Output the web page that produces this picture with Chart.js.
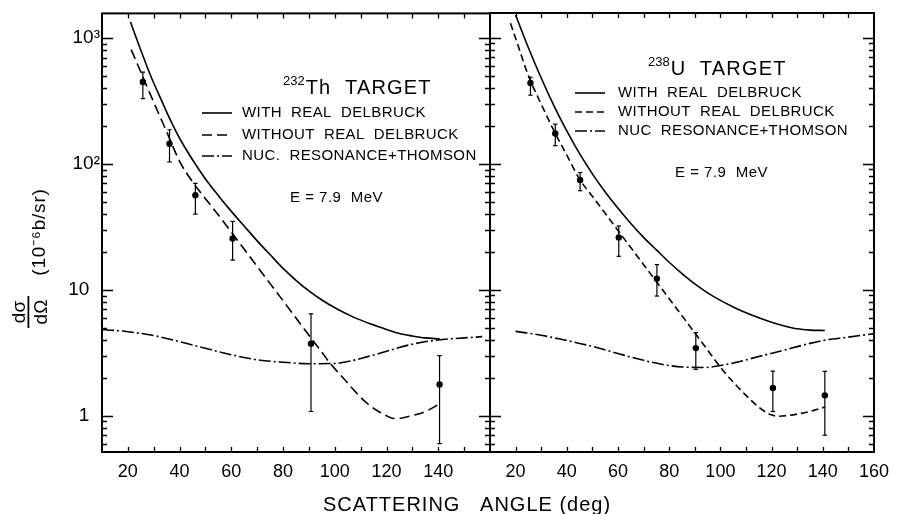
<!DOCTYPE html>
<html><head><meta charset="utf-8">
<script src="https://cdn.jsdelivr.net/npm/chart.js@4.4.1/dist/chart.umd.min.js"></script>
<style>
html,body{margin:0;padding:0;background:#fff;}
#wrap{position:relative;width:898px;height:514px;overflow:hidden;}
#wrap canvas{position:absolute;left:0;top:0;}
</style></head><body>
<div id="wrap"><canvas id="c1" width="898" height="514"></canvas><canvas id="c2" width="898" height="514"></canvas></div>
<script>
// ---------- axes ----------
const xRange = [10, 160];
const yRange = [0.515, 1570];
const yMajorTicks = [1, 10, 100, 1000];
const yTickLabels = ['1', '10', '10²', '10³'];
const xLabelsLeft = [20, 40, 60, 80, 100, 120, 140];
const xLabelsRight = [20, 40, 60, 80, 100, 120, 140, 160];

// ---------- 232Th panel ----------
const thAngles   = [25.8, 36.1, 46.1, 60.5, 90.8, 140.5];
const thValues   = [448, 145, 56.5, 25.6, 3.73, 1.77];
const thErrLow   = [330, 104, 40, 17.2, 1.08, 0.6];
const thErrHigh  = [537, 187, 70, 35, 6.45, 3.0];

const thWithAngles = [21, 25, 29, 33, 36.5, 40, 45, 50, 55, 60, 65, 70, 75, 80, 85, 90, 95, 100, 107, 114, 120, 125, 130, 135, 140.5];
const thWithValues = [1340, 800, 490, 320, 222, 160, 108, 76, 56, 42, 32, 24.5, 19, 14.8, 11.9, 9.8, 8.3, 7.2, 6.1, 5.35, 4.85, 4.5, 4.3, 4.15, 4.08];

const thWithoutAngles = [21.3, 25, 30, 35, 40, 45, 50, 55, 60, 65, 70, 75, 80, 85, 90, 95, 98.3, 103, 108.6, 112, 116.3, 120, 122.7, 126, 130.5, 135, 140.5];
const thWithoutValues = [809, 537, 309, 180, 105, 72, 53, 39.3, 28.7, 21, 15.3, 11.2, 8.2, 5.97, 4.36, 3.19, 2.59, 2.02, 1.5, 1.28, 1.10, 1.0, 0.95, 0.96, 1.01, 1.08, 1.24];

const thNucAngles = [10, 20, 30, 40, 50, 60, 70, 80, 90, 100, 106, 112, 120, 130, 140, 150, 157];
const thNucValues = [4.84, 4.65, 4.33, 3.88, 3.43, 3.05, 2.78, 2.66, 2.59, 2.6, 2.72, 2.92, 3.25, 3.7, 4.0, 4.15, 4.25];

// ---------- 238U panel ----------
const uAngles  = [25.8, 35.5, 45.2, 60.3, 75.2, 90.4, 120.5, 140.8];
const uValues  = [437, 174, 74.3, 26, 12.2, 3.44, 1.66, 1.45];
const uErrLow  = [350, 139, 61, 18.4, 8.9, 2.33, 1.08, 0.70];
const uErrHigh = [485, 206, 85, 32, 15.8, 4.56, 2.26, 2.25];

const uWithAngles = [20, 25, 30, 35, 40, 45, 50, 55, 60, 65, 70, 75, 80, 85, 90, 95, 100, 105, 110, 115, 120, 125, 130, 135, 140.8];
const uWithValues = [1515, 832, 479, 288, 182, 120, 83, 59.6, 44.2, 33.5, 26.0, 20.7, 16.5, 13.4, 11.1, 9.44, 8.22, 7.29, 6.55, 5.98, 5.51, 5.15, 4.89, 4.78, 4.74];

const uWithoutAngles = [18, 20, 25, 30, 35, 40, 45, 50, 55, 60, 65, 70, 75, 80, 85, 90, 95, 100, 105, 110, 115, 119.5, 123, 126, 130, 135, 140.8];
const uWithoutValues = [1300, 990, 499, 297, 182, 117, 75.3, 55.1, 40.4, 29.5, 21.6, 15.8, 11.6, 8.47, 6.21, 4.54, 3.32, 2.43, 1.85, 1.45, 1.17, 1.02, 0.99, 1.0, 1.03, 1.08, 1.17];

const uNucAngles = [20, 30, 36.8, 50, 62.6, 70, 79.4, 86, 93.6, 100, 106.5, 115, 124.6, 132, 140.2, 150, 160];
const uNucValues = [4.67, 4.35, 4.08, 3.55, 3.01, 2.75, 2.51, 2.43, 2.41, 2.5, 2.66, 2.95, 3.3, 3.62, 3.96, 4.2, 4.48];

// ---------- texts ----------
const legendTh = ['WITH  REAL  DELBRUCK', 'WITHOUT  REAL  DELBRUCK', 'NUC.  RESONANCE+THOMSON'];
const legendU  = ['WITH  REAL  DELBRUCK', 'WITHOUT  REAL  DELBRUCK', 'NUC  RESONANCE+THOMSON'];
const titleTh = ['232', 'Th  TARGET'];
const titleU  = ['238', 'U  TARGET'];
const energyText = 'E = 7.9  MeV';
const xTitle = 'SCATTERING   ANGLE (deg)';
const yTitleNum = 'dσ', yTitleDen = 'dΩ', yTitleUnit = '(10⁻⁶b/sr)';

const FONT = '"Liberation Sans", Arial, sans-serif';

function pts(xs, ys) { return xs.map((x, i) => ({x, y: ys[i]})); }
function curve(label, xs, ys, dash) {
  return { label, data: pts(xs, ys), borderColor: '#000', borderWidth: 1.6, borderDash: dash,
    pointRadius: 0, fill: false, cubicInterpolationMode: 'monotone', showLine: true, isCurve: true };
}
function errorBars(xs, lo, hi) {
  const data = [];
  xs.forEach((x, i) => { data.push({x, y: lo[i]}, {x, y: hi[i]}, {x, y: null}); });
  return { label: 'err', data, borderColor: '#000', borderWidth: 1.2, pointStyle: 'line', pointRadius: 2.2,
    pointBorderWidth: 1.2, pointBorderColor: '#000', spanGaps: false, showLine: true, tension: 0 };
}
function points(xs, ys) {
  return { label: 'data', data: pts(xs, ys), showLine: false, pointRadius: 3.2, pointStyle: 'circle',
    pointBackgroundColor: '#000', pointBorderColor: '#000', borderWidth: 0 };
}

function txt(ctx, s, x, y, size, o = {}) {
  ctx.font = `${o.weight || 'normal'} ${size}px ${FONT}`;
  ctx.letterSpacing = (o.ls || 0) + 'px';
  ctx.textAlign = o.align || 'left';
  ctx.textBaseline = o.baseline || 'alphabetic';
  ctx.fillStyle = '#000';
  ctx.fillText(s, x, y);
  const w = ctx.measureText(s).width;
  ctx.letterSpacing = '0px';
  return w;
}

const framePlugin = {
  id: 'frame',
  afterDraw(chart) {
    const {ctx, chartArea: a, scales} = chart;
    const x = scales.x, y = scales.y;
    ctx.save();
    ctx.strokeStyle = '#000';
    ctx.lineWidth = 1.3;
    ctx.beginPath();
    for (let v = x.min + 10; v < x.max; v += 10) {
      const px = Math.round(x.getPixelForValue(v)) + 0.5;
      ctx.moveTo(px, a.bottom); ctx.lineTo(px, a.bottom - 5);
      ctx.moveTo(px, a.top); ctx.lineTo(px, a.top + 5);
    }
    for (let d = -1; d <= 3; d++) {
      for (let m = 1; m <= 9; m++) {
        const v = m * Math.pow(10, d);
        if (v <= y.min || v >= y.max) continue;
        const py = Math.round(y.getPixelForValue(v)) + 0.5;
        const len = m === 1 ? 11 : 5;
        ctx.moveTo(a.left, py); ctx.lineTo(a.left + len, py);
        ctx.moveTo(a.right, py); ctx.lineTo(a.right - len, py);
      }
    }
    ctx.stroke();
    ctx.lineWidth = 2;
    ctx.strokeRect(a.left, a.top, a.right - a.left, a.bottom - a.top);
    ctx.restore();
  }
};

const annotPlugin = {
  id: 'annot',
  afterDraw(chart, args, o) {
    const ctx = chart.ctx;
    ctx.save();
    const w = txt(ctx, o.title[0], o.titleX, o.titleY - 9, 13);
    txt(ctx, o.title[1], o.titleX + w + 1, o.titleY, 20, {ls: 1.2});
    const curves = chart.data.datasets.filter(d => d.isCurve);
    curves.forEach((d, i) => {
      const yy = o.rowY[i];
      ctx.save();
      ctx.strokeStyle = '#000'; ctx.lineWidth = d.borderWidth;
      ctx.setLineDash(d.borderDash || []);
      ctx.beginPath(); ctx.moveTo(o.sampleX[0], yy); ctx.lineTo(o.sampleX[1], yy); ctx.stroke();
      ctx.restore();
      txt(ctx, o.labels[i], o.textX, yy, 15, {baseline: 'middle', ls: 0.4});
    });
    txt(ctx, energyText, o.eX, o.eY, 15, {baseline: 'middle', ls: 0.5});
    if (o.axisTitles) {
      txt(ctx, xTitle, 323, 511, 20, {ls: 1.0});
      ctx.save();
      ctx.rotate(-Math.PI / 2);
      txt(ctx, yTitleNum, -312, 25, 19, {align: 'center'});
      txt(ctx, yTitleDen, -312, 47, 19, {align: 'center'});
      ctx.fillRect(-328, 27.5, 32, 1.8);
      txt(ctx, yTitleUnit, -232, 45, 19, {align: 'center', ls: 0.8});
      ctx.restore();
    }
    ctx.restore();
  }
};

function makeChart(id, cfg) {
  const ctx = document.getElementById(id);
  return new Chart(ctx, {
    type: 'line',
    data: { datasets: [
      curve('with', cfg.withA, cfg.withV, []),
      curve('without', cfg.withoutA, cfg.withoutV, cfg.dash),
      curve('nuc', cfg.nucA, cfg.nucV, [12, 3, 2, 3]),
      errorBars(cfg.expA, cfg.lo, cfg.hi),
      points(cfg.expA, cfg.vals)
    ]},
    plugins: [framePlugin, annotPlugin],
    options: {
      responsive: false, animation: false, devicePixelRatio: 1,
      layout: { padding: { left: cfg.padLeft, right: cfg.padRight, top: 13, bottom: 0 }, autoPadding: false },
      plugins: { legend: { display: false }, tooltip: { enabled: false }, annot: cfg.annot },
      scales: {
        x: {
          type: 'linear', min: xRange[0], max: xRange[1],
          afterFit(s) { s.height = 62; },
          afterBuildTicks(s) { const t = []; for (let v = xRange[0]; v <= xRange[1]; v += 10) t.push({value: v}); s.ticks = t; },
          grid: { display: false, drawTicks: false }, border: { display: false },
          ticks: { autoSkip: false, maxRotation: 0, padding: 9, color: '#000', font: { family: FONT, size: 18 },
            callback: (v) => cfg.xLabels.includes(v) ? String(v) : '' }
        },
        y: {
          type: 'logarithmic', min: yRange[0], max: yRange[1], display: cfg.showY,
          afterFit(s) { s.width = cfg.showY ? 102 : 0; },
          afterBuildTicks(s) { s.ticks = yMajorTicks.map(v => ({value: v})); },
          grid: { display: false, drawTicks: false }, border: { display: false },
          ticks: { padding: 2, color: '#000', font: { family: FONT, size: 19 },
            callback: (v) => { const l = yTickLabels[yMajorTicks.indexOf(v)]; return l.length < 3 ? l + '\u2007' : l; } }
        }
      }
    }
  });
}

makeChart('c1', {
  withA: thWithAngles, withV: thWithValues, withoutA: thWithoutAngles, withoutV: thWithoutValues,
  nucA: thNucAngles, nucV: thNucValues, expA: thAngles, vals: thValues, lo: thErrLow, hi: thErrHigh,
  dash: [10, 5], padLeft: 0, padRight: 408, showY: true, xLabels: xLabelsLeft,
  annot: { title: titleTh, titleX: 283, titleY: 94, rowY: [113, 135, 156], sampleX: [202, 232], textX: 242,
    labels: legendTh, eX: 290, eY: 198, axisTitles: true }
});
makeChart('c2', {
  withA: uWithAngles, withV: uWithValues, withoutA: uWithoutAngles, withoutV: uWithoutValues,
  nucA: uNucAngles, nucV: uNucValues, expA: uAngles, vals: uValues, lo: uErrLow, hi: uErrHigh,
  dash: [7, 4], padLeft: 490, padRight: 20, showY: false, xLabels: xLabelsRight,
  annot: { title: titleU, titleX: 648, titleY: 75, rowY: [93, 112, 131], sampleX: [575, 605], textX: 618,
    labels: legendU, eX: 675, eY: 173, axisTitles: false }
});
</script>
</body></html>
